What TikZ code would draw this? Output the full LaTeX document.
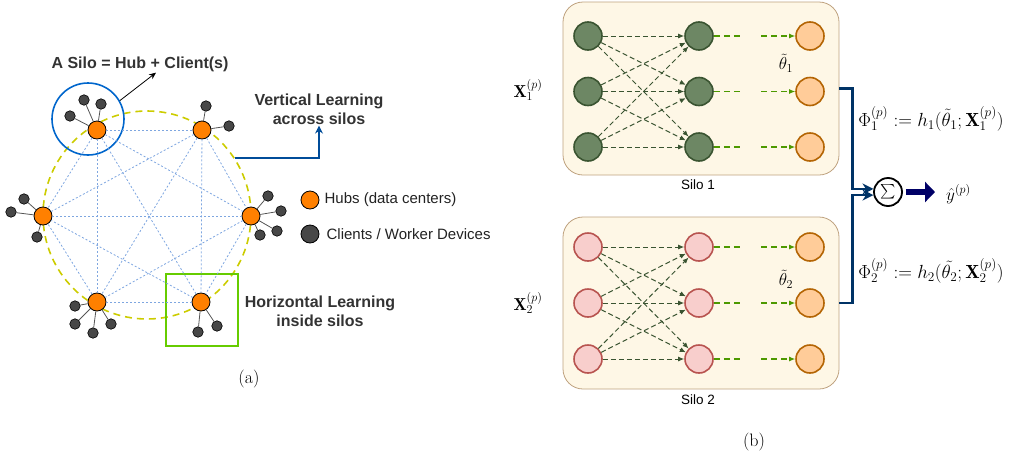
\RequirePackage{fix-cm}
\documentclass[tikz,border=0pt]{standalone}
\usepackage{fontspec}
\setsansfont{Liberation Sans}
\usetikzlibrary{arrows.meta}

\definecolor{hubfill}{HTML}{FF8000}
\definecolor{clientfill}{HTML}{474747}
\definecolor{spokegray}{HTML}{555555}
\definecolor{meshblue}{HTML}{7EA6E0}
\definecolor{ringyellow}{HTML}{CCCC00}
\definecolor{siloblue}{HTML}{0066CC}
\definecolor{hboxgreen}{HTML}{66CC00}
\definecolor{vertblue}{HTML}{004C99}
\definecolor{labelgray}{HTML}{333333}
\definecolor{legendtext}{HTML}{222222}
\definecolor{boxfill}{HTML}{FEF7E6}
\definecolor{boxdraw}{HTML}{BFA27F}
\definecolor{gfill}{HTML}{6D8764}
\definecolor{gdraw}{HTML}{3A5431}
\definecolor{pfill}{HTML}{F8CECC}
\definecolor{pdraw}{HTML}{B85450}
\definecolor{ofill}{HTML}{FFCC99}
\definecolor{odraw}{HTML}{B46504}
\definecolor{crossgreen}{HTML}{3A5431}
\definecolor{skipgreen}{HTML}{4D9900}
\definecolor{aggblue}{HTML}{003366}
\definecolor{navy}{HTML}{000066}

\begin{document}
\begin{tikzpicture}[x=1pt,y=-1pt,
 hub/.style={circle,draw=black,fill=hubfill,minimum size=18pt,inner sep=0pt,line width=.8pt},
 client/.style={circle,draw=black,fill=clientfill,minimum size=10.5pt,inner sep=0pt,line width=.6pt},
 spoke/.style={draw=spokegray,line width=.8pt},
 mesh/.style={draw=meshblue,dash pattern=on 2pt off 2pt,line width=.8pt},
 lbl/.style={font=\fontsize{16}{19}\selectfont\sffamily\bfseries,text=labelgray,align=center,inner sep=1pt},
 legend/.style={font=\fontsize{15}{18}\selectfont\sffamily,text=legendtext,anchor=west,inner sep=0pt},
 caption/.style={font=\fontsize{18}{21}\selectfont},
 neuron/.style={circle,minimum size=28pt,inner sep=0pt,line width=1.6pt},
 gnode/.style={neuron,draw=gdraw,fill=gfill},
 pnode/.style={neuron,draw=pdraw,fill=pfill},
 onode/.style={neuron,draw=odraw,fill=ofill},
 cross/.style={draw=crossgreen,dash pattern=on 5pt off 3pt,line width=1pt,-{Latex[length=6pt,width=5pt]}},
 skip/.style={draw=skipgreen,dash pattern=on 6pt off 4pt,line width=1.1pt},
 silobox/.style={draw=boxdraw,fill=boxfill,rounded corners=20pt,minimum width=276pt,line width=.8pt},
 silolbl/.style={font=\fontsize{13.5}{16}\selectfont\sffamily,inner sep=0pt},
 agg/.style={draw=aggblue,line width=2.4pt,-{Stealth[length=11pt,width=11pt]}},
 bigarrow/.style={draw=navy,line width=6pt,-{Triangle[length=10pt,width=20pt]}},
 mathlbl/.style={font=\fontsize{17.3}{21}\selectfont,inner sep=0pt},
]
\useasboundingbox (0,0) rectangle (1012,461);

% ring, silo circle, inside box
\node[circle,draw=ringyellow,dash pattern=on 7pt off 5pt,line width=1.6pt,minimum size=208pt,inner sep=0pt] (ring) at (147,215) {};
\node[circle,draw=siloblue,line width=1.6pt,minimum size=72pt,inner sep=0pt] (silo) at (88,119) {};
\node[draw=hboxgreen,line width=1.6pt,minimum size=72pt,inner sep=0pt] (hbox) at (202,310) {};

% hubs
\foreach \n/\x/\y in {1/97/130,2/202/130,3/251/216,4/201/302,5/97/302,6/43/216}
  \node[hub] (h\n) at (\x,\y) {};
% mesh
\foreach \i in {1,...,5}{
  \pgfmathtruncatemacro\k{\i+1}
  \foreach \j in {\k,...,6} \draw[mesh] (h\i) -- (h\j);
}
% clients
\foreach \x/\y/\h [count=\c] in {84/100/1,101/104/1,70/116/1,206/106/2,229/126/2,268/196/3,281/211/3,277/231/3,260/235/3,198/332/4,217/326/4,75/306/5,75/324/5,93/333/5,111/324/5,24/199/6,11/212/6,37/237/6}{
  \node[client] (c\c) at (\x,\y) {};
  \draw[spoke] (c\c) -- (h\h);
}

% labels
\node[lbl] (silotxt) at (140,64) {A Silo = Hub + Client(s)};
\draw[-{Stealth[length=7pt,width=6pt]},line width=.8pt] (silo.30) -- ([xshift=16pt]silotxt.south);
\node[lbl] (vtxt) at (319,109) {Vertical Learning\\across silos};
\draw[draw=vertblue,line width=1.6pt,-{Stealth[length=8pt,width=8pt]}] (ring.33) -| (vtxt.south);
\node[lbl] (htxt) at (320,311) {Horizontal Learning\\inside silos};
% legend
\node[hub] (lhub) at (310,200) {};
\node[legend] (lhubtxt) at ([xshift=5pt]lhub.east) {Hubs (data centers)};
\node[hub,fill=clientfill] (lclient) at (310,234) {};
\node[legend] (lclienttxt) at ([xshift=7pt]lclient.east) {Clients / Worker Devices};
\node[caption] (capa) at (249,379) {(a)};

% silos
\node[silobox,minimum height=173pt] (box1) at (701,88.5) {};
\node[silobox,minimum height=172pt] (box2) at (701,303) {};
\node[silolbl] (silo1txt) at (698,185) {Silo 1};
\node[silolbl] (silo2txt) at (698,400) {Silo 2};

% neurons
\foreach \r/\y in {1/36,2/91.5,3/147}{
  \node[gnode] (a1\r) at (588,\y) {};
  \node[gnode] (b1\r) at (699,\y) {};
  \node[onode] (o1\r) at (810,\y) {};
  \coordinate (m1\r) at (751,\y);
}
\foreach \r/\y in {1/247,2/303,3/359}{
  \node[pnode] (a2\r) at (588,\y) {};
  \node[pnode] (b2\r) at (699,\y) {};
  \node[onode] (o2\r) at (810,\y) {};
  \coordinate (m2\r) at (751,\y);
}
% connections
\foreach \s in {1,2}{
  \foreach \i in {1,2,3}{
    \foreach \j in {1,2,3} \draw[cross] (a\s\i) -- (b\s\j);
    \draw[skip,shorten >=9pt] (b\s\i) -- (m\s\i);
    \draw[skip,shorten <=10pt,-{Latex[length=6pt,width=5pt]}] (m\s\i) -- (o\s\i);
  }
}

% math labels
\node[mathlbl] (x1) at (528,90) {$\mathbf{X}_1^{(p)}$};
\node[mathlbl] (x2) at (528,303) {$\mathbf{X}_2^{(p)}$};
\node[mathlbl] (t1) at (786,63) {$\tilde{\theta}_1$};
\node[mathlbl] (t2) at (786,279) {$\tilde{\theta}_2$};
\node[mathlbl,font=\fontsize{19}{22}\selectfont] (phi1) at (931,119) {$\Phi_1^{(p)} := h_1(\tilde{\theta}_1;\mathbf{X}_1^{(p)})$};
\node[mathlbl,font=\fontsize{19}{22}\selectfont] (phi2) at (931,271) {$\Phi_2^{(p)} := h_2(\tilde{\theta_2};\mathbf{X}_2^{(p)})$};

% aggregation
\node[circle,draw,line width=1.8pt,minimum size=28pt,inner sep=0pt,font=\fontsize{10}{12}\selectfont] (sum) at (888,192) {\scalebox{1.45}{$\sum$}};
\draw[agg] (box1.east) -- ++(13,0) |- (sum.168);
\draw[agg] (box2.east) -- ++(13,0) |- (sum.192);
\node[mathlbl,anchor=west] (yhat) at (946,194) {$\hat{y}^{(p)}$};
\draw[bigarrow,shorten <=3pt,shorten >=11pt] (sum.east) -- (sum.east -| yhat.west);
\node[caption] (capb) at (754,442) {(b)};
\end{tikzpicture}
\end{document}
